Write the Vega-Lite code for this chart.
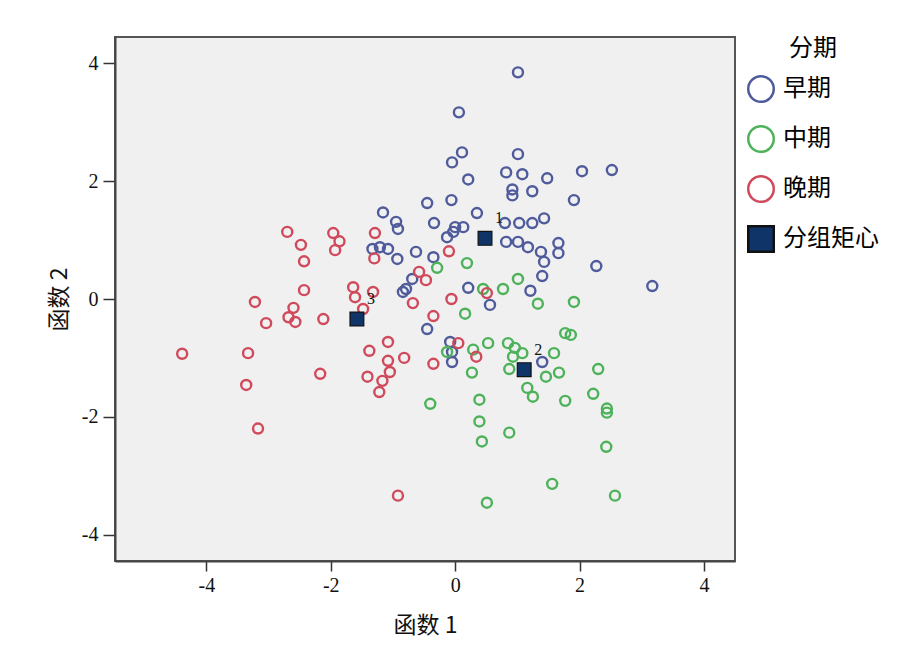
{
  "$schema": "https://vega.github.io/schema/vega-lite/v6.json",
  "width": 620,
  "height": 524,
  "autosize": {"type": "none"},
  "padding": {"left": 115, "top": 37, "right": 187, "bottom": 90},
  "background": "#ffffff",
  "config": {
    "view": {"fill": "#f0f0f0", "stroke": "#555555", "strokeWidth": 2},
    "font": "Liberation Serif, Noto Sans CJK SC",
    "axis": {"grid": false, "domainColor": "#444444", "domainWidth": 2, "tickColor": "#333333", "tickWidth": 1.5, "labelColor": "#111111", "titleColor": "#111111", "titleFontWeight": "normal", "labelFont": "Liberation Serif", "titleFont": "Noto Sans CJK SC, Liberation Serif"},
    "legend": {"titleFontSize": 24, "labelFontSize": 24, "titleFont": "Noto Sans CJK SC", "labelFont": "Noto Sans CJK SC", "titleFontWeight": "normal", "titleAlign": "center", "titleAnchor": "middle", "titlePadding": 14, "rowPadding": 14, "labelOffset": 8, "symbolSize": 650, "symbolStrokeWidth": 2.5, "offset": 12}
  },
  "data": {"values": [
    {"x": 1.01, "y": 3.85, "g": "早期"}, {"x": 0.06, "y": 3.17, "g": "早期"}, {"x": 0.11, "y": 2.49, "g": "早期"},
    {"x": -0.05, "y": 2.32, "g": "早期"}, {"x": 1.01, "y": 2.46, "g": "早期"}, {"x": 0.21, "y": 2.03, "g": "早期"},
    {"x": 0.82, "y": 2.15, "g": "早期"}, {"x": 1.08, "y": 2.12, "g": "早期"}, {"x": 1.48, "y": 2.05, "g": "早期"},
    {"x": 2.04, "y": 2.17, "g": "早期"}, {"x": 2.52, "y": 2.19, "g": "早期"}, {"x": 0.92, "y": 1.86, "g": "早期"},
    {"x": 0.92, "y": 1.76, "g": "早期"}, {"x": 1.24, "y": 1.83, "g": "早期"}, {"x": 1.91, "y": 1.68, "g": "早期"},
    {"x": -0.45, "y": 1.63, "g": "早期"}, {"x": -0.06, "y": 1.68, "g": "早期"}, {"x": 0.35, "y": 1.46, "g": "早期"},
    {"x": 0.8, "y": 1.29, "g": "早期"}, {"x": 1.03, "y": 1.29, "g": "早期"}, {"x": 1.24, "y": 1.29, "g": "早期"},
    {"x": 1.43, "y": 1.37, "g": "早期"}, {"x": -0.34, "y": 1.29, "g": "早期"}, {"x": 0.0, "y": 1.22, "g": "早期"},
    {"x": 0.13, "y": 1.22, "g": "早期"}, {"x": -0.13, "y": 1.05, "g": "早期"}, {"x": -0.03, "y": 1.14, "g": "早期"},
    {"x": 0.82, "y": 0.97, "g": "早期"}, {"x": 1.01, "y": 0.97, "g": "早期"}, {"x": 1.17, "y": 0.88, "g": "早期"},
    {"x": 1.38, "y": 0.8, "g": "早期"}, {"x": 1.66, "y": 0.95, "g": "早期"}, {"x": 1.66, "y": 0.78, "g": "早期"},
    {"x": 1.43, "y": 0.63, "g": "早期"}, {"x": 2.27, "y": 0.56, "g": "早期"}, {"x": 1.4, "y": 0.39, "g": "早期"},
    {"x": 3.17, "y": 0.22, "g": "早期"}, {"x": 0.21, "y": 0.19, "g": "早期"}, {"x": 1.21, "y": 0.14, "g": "早期"},
    {"x": -0.35, "y": 0.71, "g": "早期"}, {"x": -1.16, "y": 1.47, "g": "早期"}, {"x": -0.95, "y": 1.31, "g": "早期"},
    {"x": -0.92, "y": 1.19, "g": "早期"}, {"x": -1.33, "y": 0.85, "g": "早期"}, {"x": -1.21, "y": 0.88, "g": "早期"},
    {"x": -1.08, "y": 0.85, "g": "早期"}, {"x": -0.93, "y": 0.68, "g": "早期"}, {"x": -0.63, "y": 0.8, "g": "早期"},
    {"x": -0.69, "y": 0.34, "g": "早期"}, {"x": -0.79, "y": 0.17, "g": "早期"}, {"x": -0.84, "y": 0.12, "g": "早期"},
    {"x": -0.45, "y": -0.51, "g": "早期"}, {"x": -0.05, "y": -1.07, "g": "早期"}, {"x": -0.05, "y": -0.9, "g": "早期"},
    {"x": 0.56, "y": -0.1, "g": "早期"}, {"x": 1.4, "y": -1.07, "g": "早期"}, {"x": -0.08, "y": -0.73, "g": "早期"},
    {"x": 0.16, "y": -0.25, "g": "中期"}, {"x": 1.33, "y": -0.08, "g": "中期"}, {"x": 1.91, "y": -0.05, "g": "中期"},
    {"x": 1.77, "y": -0.58, "g": "中期"}, {"x": 1.86, "y": -0.61, "g": "中期"}, {"x": -0.13, "y": -0.9, "g": "中期"},
    {"x": 0.29, "y": -0.86, "g": "中期"}, {"x": 0.53, "y": -0.75, "g": "中期"}, {"x": 0.85, "y": -0.75, "g": "中期"},
    {"x": 0.96, "y": -0.83, "g": "中期"}, {"x": 1.08, "y": -0.92, "g": "中期"}, {"x": 0.93, "y": -0.98, "g": "中期"},
    {"x": 0.87, "y": -1.19, "g": "中期"}, {"x": 0.27, "y": -1.25, "g": "中期"}, {"x": 1.46, "y": -1.32, "g": "中期"},
    {"x": 1.59, "y": -0.92, "g": "中期"}, {"x": 1.67, "y": -1.25, "g": "中期"}, {"x": 2.3, "y": -1.19, "g": "中期"},
    {"x": 1.16, "y": -1.51, "g": "中期"}, {"x": 1.25, "y": -1.66, "g": "中期"}, {"x": 1.77, "y": -1.73, "g": "中期"},
    {"x": 2.22, "y": -1.61, "g": "中期"}, {"x": 2.44, "y": -1.86, "g": "中期"}, {"x": 2.44, "y": -1.93, "g": "中期"},
    {"x": -0.4, "y": -1.78, "g": "中期"}, {"x": 0.39, "y": -1.71, "g": "中期"}, {"x": 0.39, "y": -2.08, "g": "中期"},
    {"x": 0.87, "y": -2.27, "g": "中期"}, {"x": 0.43, "y": -2.42, "g": "中期"}, {"x": 2.43, "y": -2.51, "g": "中期"},
    {"x": 1.56, "y": -3.14, "g": "中期"}, {"x": 2.57, "y": -3.34, "g": "中期"}, {"x": 0.51, "y": -3.46, "g": "中期"},
    {"x": -0.29, "y": 0.53, "g": "中期"}, {"x": 0.19, "y": 0.61, "g": "中期"}, {"x": 1.01, "y": 0.34, "g": "中期"},
    {"x": 0.77, "y": 0.17, "g": "中期"}, {"x": 0.45, "y": 0.17, "g": "中期"},
    {"x": -2.7, "y": 1.14, "g": "晚期"}, {"x": -2.48, "y": 0.92, "g": "晚期"}, {"x": -2.43, "y": 0.64, "g": "晚期"},
    {"x": -1.96, "y": 1.12, "g": "晚期"}, {"x": -1.86, "y": 0.98, "g": "晚期"}, {"x": -1.93, "y": 0.83, "g": "晚期"},
    {"x": -1.29, "y": 1.12, "g": "晚期"}, {"x": -1.3, "y": 0.69, "g": "晚期"}, {"x": -2.43, "y": 0.15, "g": "晚期"},
    {"x": -3.22, "y": -0.05, "g": "晚期"}, {"x": -2.6, "y": -0.15, "g": "晚期"}, {"x": -2.68, "y": -0.31, "g": "晚期"},
    {"x": -2.57, "y": -0.39, "g": "晚期"}, {"x": -3.04, "y": -0.41, "g": "晚期"}, {"x": -2.12, "y": -0.34, "g": "晚期"},
    {"x": -4.39, "y": -0.93, "g": "晚期"}, {"x": -3.33, "y": -0.92, "g": "晚期"}, {"x": -3.36, "y": -1.46, "g": "晚期"},
    {"x": -2.17, "y": -1.27, "g": "晚期"}, {"x": -3.17, "y": -2.2, "g": "晚期"}, {"x": -0.92, "y": -3.34, "g": "晚期"},
    {"x": -0.1, "y": 0.81, "g": "晚期"}, {"x": -0.58, "y": 0.46, "g": "晚期"}, {"x": -0.47, "y": 0.32, "g": "晚期"},
    {"x": -1.64, "y": 0.2, "g": "晚期"}, {"x": -1.32, "y": 0.12, "g": "晚期"}, {"x": -1.61, "y": 0.03, "g": "晚期"},
    {"x": -1.48, "y": -0.17, "g": "晚期"}, {"x": -1.08, "y": -0.73, "g": "晚期"}, {"x": -1.38, "y": -0.88, "g": "晚期"},
    {"x": -0.82, "y": -1.0, "g": "晚期"}, {"x": -1.08, "y": -1.05, "g": "晚期"}, {"x": -1.05, "y": -1.24, "g": "晚期"},
    {"x": -1.41, "y": -1.32, "g": "晚期"}, {"x": -1.17, "y": -1.39, "g": "晚期"}, {"x": -1.22, "y": -1.58, "g": "晚期"},
    {"x": -0.35, "y": -1.1, "g": "晚期"}, {"x": -0.35, "y": -0.29, "g": "晚期"}, {"x": -0.68, "y": -0.07, "g": "晚期"},
    {"x": -0.06, "y": 0.0, "g": "晚期"}, {"x": 0.51, "y": 0.1, "g": "晚期"}, {"x": 0.34, "y": -0.98, "g": "晚期"},
    {"x": 0.05, "y": -0.75, "g": "晚期"},
    {"x": 0.48, "y": 1.03, "g": "分组矩心", "label": "1"},
    {"x": 1.11, "y": -1.2, "g": "分组矩心", "label": "2"},
    {"x": -1.58, "y": -0.34, "g": "分组矩心", "label": "3"}
  ]},
  "encoding": {
    "x": {"field": "x", "type": "quantitative", "scale": {"domain": [-5.47, 4.5], "nice": false, "zero": false},
      "axis": {"values": [-4, -2, 0, 2, 4], "title": "函数 1", "labelExpr": "replace(datum.label, '−', '-')", "labelFontSize": 20, "titleFontSize": 23, "tickSize": 10, "labelPadding": 4, "titlePadding": 19}},
    "y": {"field": "y", "type": "quantitative", "scale": {"domain": [-4.45, 4.45], "nice": false, "zero": false},
      "axis": {"values": [-4, -2, 0, 2, 4], "title": "函数 2", "labelExpr": "replace(datum.label, '−', '-')", "labelFontSize": 20, "titleFontSize": 23, "tickSize": 12, "labelPadding": 5, "titlePadding": 10}},
    "stroke": {"field": "g", "type": "nominal", "scale": {"domain": ["早期", "中期", "晚期", "分组矩心"], "range": ["#4f5b9b", "#4db25a", "#d04a5c", "#111111"]},
      "legend": {"title": "分期", "encode": {"title": {"update": {"dx": {"value": 16}}}, "symbols": {"update": {"strokeOpacity": {"signal": "datum.value === '分组矩心' ? 1 : 0.5"}}}}}},
    "fill": {"field": "g", "type": "nominal", "scale": {"domain": ["早期", "中期", "晚期", "分组矩心"], "range": ["transparent", "transparent", "transparent", "#0f3468"]},
      "legend": {"title": "分期", "encode": {"title": {"update": {"dx": {"value": 16}}}, "symbols": {"update": {"strokeOpacity": {"signal": "datum.value === '分组矩心' ? 1 : 0.5"}}}}}},
    "shape": {"field": "g", "type": "nominal", "scale": {"domain": ["早期", "中期", "晚期", "分组矩心"], "range": ["circle", "circle", "circle", "square"]},
      "legend": {"title": "分期", "encode": {"title": {"update": {"dx": {"value": 16}}}, "symbols": {"update": {"strokeOpacity": {"signal": "datum.value === '分组矩心' ? 1 : 0.5"}}}}}}
  },
  "layer": [
    {
      "transform": [{"filter": "datum.g !== '分组矩心'"}],
      "mark": {"type": "point", "strokeWidth": 2.4, "size": 100, "opacity": 1}
    },
    {
      "transform": [{"filter": "datum.g === '分组矩心'"}],
      "mark": {"type": "point", "strokeWidth": 1.2, "size": 190, "opacity": 1}
    },
    {
      "transform": [{"filter": "datum.g === '分组矩心'"}],
      "mark": {"type": "text", "align": "left", "baseline": "middle", "dx": 10, "dy": -20, "fontSize": 16, "font": "Liberation Serif", "color": "#111111"},
      "encoding": {"text": {"field": "label", "type": "nominal"}, "stroke": null, "fill": null, "shape": null}
    }
  ]
}
